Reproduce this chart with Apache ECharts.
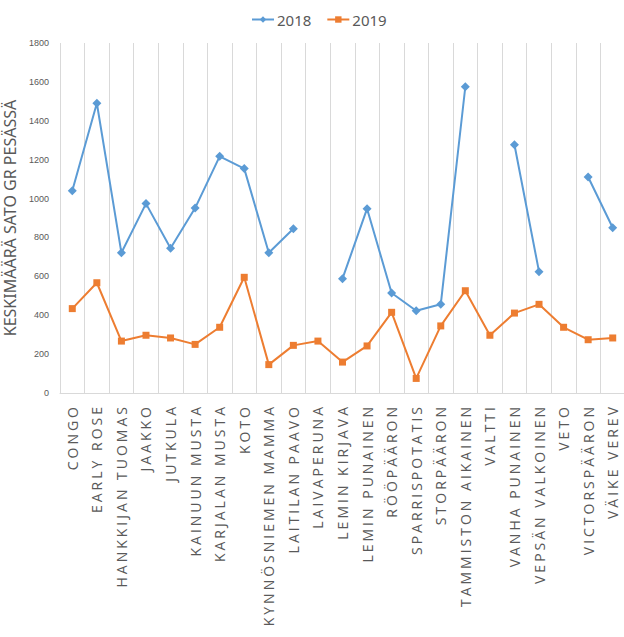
<!DOCTYPE html>
<html>
<head>
<meta charset="utf-8">
<script src="https://cdn.jsdelivr.net/npm/echarts@6/dist/echarts.min.js"></script>
<style>
html,body{margin:0;padding:0;background:#fff;}
#chart{width:624px;height:637px;}
#chart text[style*="Open Sans"]{letter-spacing:3px;}
</style>
</head>
<body>
<div id="chart"></div>
<script>
const categories = ['CONGO','EARLY ROSE','HANKKIJAN TUOMAS','JAAKKO','JUTKULA','KAINUUN MUSTA','KARJALAN MUSTA','KOTO','KYNNÖSNIEMEN MAMMA','LAITILAN PAAVO','LAIVAPERUNA','LEMIN KIRJAVA','LEMIN PUNAINEN','RÖÖPÄÄRON','SPARRISPOTATIS','STORPÄÄRON','TAMMISTON AIKAINEN','VALTTI','VANHA PUNAINEN','VEPSÄN VALKOINEN','VETO','VICTORSPÄÄRON','VÄIKE VEREV'];
const values2018 = [1040,1490,721,974,744,951,1217,1154,721,845,null,588,948,514,423,456,1575,null,1277,624,null,1111,850];
const values2019 = [434,567,267,297,283,250,338,595,146,245,267,159,242,415,75,345,526,297,411,456,338,274,283];
const yTicks = {min:0, max:1800, interval:200};
const yTitle = 'KESKIMÄÄRÄ SATO GR PESÄSSÄ';

const chart = echarts.init(document.getElementById('chart'), null, {renderer:'svg'});
chart.setOption({
  animation:false,
  legend:{
    left:246, top:7,
    itemWidth:22, itemHeight:8, itemGap:15,
    textStyle:{color:'#595959', fontSize:15, fontFamily:'Noto Sans', padding:[0,0,0,-2]},
    data:['2018','2019']
  },
  grid:{left:60, top:43, width:565, height:350, containLabel:false, outerBoundsMode:'none'},
  xAxis:{
    type:'category',
    data:categories,
    boundaryGap:true,
    axisLine:{show:true, lineStyle:{color:'#d9d9d9', width:1}},
    axisTick:{show:false},
    splitLine:{show:true, lineStyle:{color:'#d9d9d9', width:1}},
    axisLabel:{rotate:90, interval:0, margin:11, color:'#595959', fontSize:14, fontFamily:'Open Sans'}
  },
  yAxis:{
    type:'value',
    min:yTicks.min, max:yTicks.max, interval:yTicks.interval,
    axisLine:{show:false}, axisTick:{show:false}, splitLine:{show:false},
    axisLabel:{color:'#595959', fontSize:9, fontFamily:'Liberation Sans', margin:11,
      formatter:function(v){return String(v);}},
    name:yTitle, nameLocation:'middle', nameGap:33, nameRotate:90,
    nameTextStyle:{color:'#595959', fontSize:16, fontFamily:'Noto Sans'}
  },
  series:[
    {name:'2018', type:'line', data:values2018, connectNulls:false,
     symbol:'diamond', symbolSize:9,
     itemStyle:{color:'#5B9BD5'}, lineStyle:{color:'#5B9BD5', width:2}},
    {name:'2019', type:'line', data:values2019,
     symbol:'rect', symbolSize:7,
     itemStyle:{color:'#ED7D31'}, lineStyle:{color:'#ED7D31', width:2}}
  ]
});
</script>
</body>
</html>
